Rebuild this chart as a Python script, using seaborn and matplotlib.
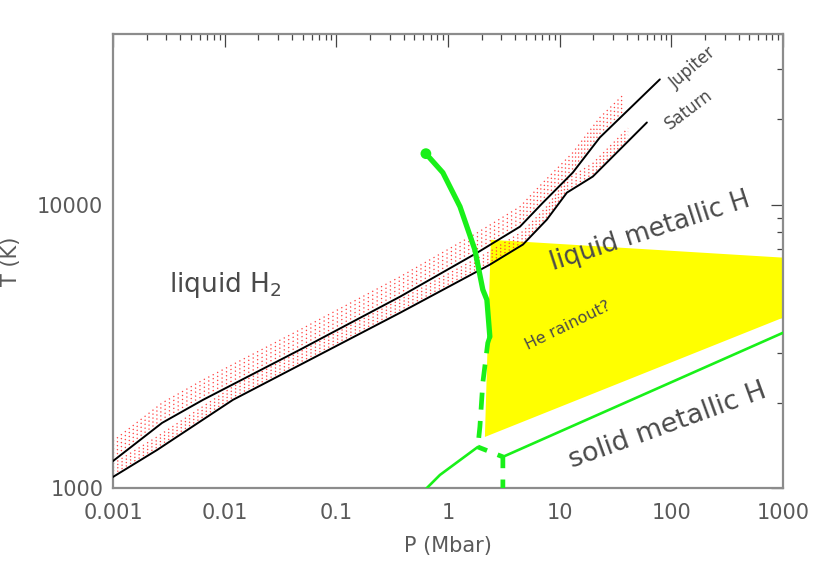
import numpy as np
import pandas as pd
import matplotlib
matplotlib.use('Agg')
import matplotlib.pyplot as plt
import matplotlib.ticker as mticker
import seaborn as sns

# adiabats, P in Mbar, T in K
jup_P = [0.001, 0.00275, 0.0064, 0.0472, 0.371, 1.82, 4.41, 7.08, 13.1, 22.9, 78.9]
jup_T = [1245, 1697, 2047, 3076, 4730, 6760, 8360, 10160, 12970, 17260, 27660]
sat_P = [0.001, 0.00248, 0.01186, 0.371, 2.37, 4.69, 7.67, 11.6, 19.8, 60.4]
sat_T = [1094, 1362, 2047, 4150, 6140, 7230, 8850, 11020, 12560, 19490]

# uncertainty bands (offsets in dex above each adiabat, and last pressure)
jup_band_dex = [0.014, 0.028, 0.042, 0.056, 0.070]
sat_band_dex = [0.010, 0.022, 0.034, 0.046]
jup_band_end = 37.0
sat_band_end = 41.0

# H2 -> metallic transition (solid part, dashed part)
ppt_P = [0.634, 0.899, 1.28, 1.74, 2.05, 2.23, 2.37]
ppt_T = [15130, 12970, 9840, 6930, 5010, 4615, 3420]
ppt_dash_P = [2.37, 2.27, 2.05, 1.93, 1.85]
ppt_dash_T = [3420, 3250, 2350, 1643, 1396]

# melting curves
melt_lo_P = [1.85, 0.847, 0.647, 0.56]
melt_lo_T = [1396, 1112, 1000, 944]
melt_dash_P = [1.85, 3.10, 3.10]
melt_dash_T = [1396, 1288, 900]
melt_hi_P = [3.10, 1000]
melt_hi_T = [1288, 3530]

# He rainout region
he_P = [2.42, 1000, 1000, 2.14, 2.27]
he_T = [7515, 6500, 3990, 1514, 3335]

xtick_vals = [0.001, 0.01, 0.1, 1, 10, 100, 1000]
xtick_labels = ['0.001', '0.01', '0.1', '1', '10', '100', '1000']
ytick_vals = [1000, 10000]
ytick_labels = ['1000', '10000']

sns.set_style('white')
plt.rcParams['font.family'] = ['DejaVu Sans']

fig = plt.figure(figsize=(8.17, 5.61), dpi=100)
ax = fig.add_axes([113 / 817, 1 - 488 / 561, 670 / 817, 454 / 561])
ax.set_xscale('log')
ax.set_yscale('log')

green = '#19f019'
txt = '#4a4a4a'
lab = '#5a5a5a'


def band(P, T, end, dex):
    lp, lt = np.log10(P), np.log10(T)
    keep = lp < np.log10(end)
    bp = np.append(lp[keep], np.log10(end))
    bt = np.append(lt[keep], np.interp(np.log10(end), lp, lt))
    return 10 ** bp, 10 ** (bt + dex)


ax.fill(he_P, he_T, color='#ffff00', lw=0, zorder=1)

for P, T, end, offs in [(jup_P, jup_T, jup_band_end, jup_band_dex),
                        (sat_P, sat_T, sat_band_end, sat_band_dex)]:
    for d in offs:
        bp, bt = band(np.array(P), np.array(T), end, d)
        ax.plot(bp, bt, color='#ff3b3b', lw=0.9, ls=(0, (1, 3)), zorder=2)

adiab = pd.concat([pd.DataFrame({'P': jup_P, 'T': jup_T, 'planet': 'Jupiter'}),
                   pd.DataFrame({'P': sat_P, 'T': sat_T, 'planet': 'Saturn'})])
sns.lineplot(data=adiab, x='P', y='T', units='planet', estimator=None, sort=False,
             color='black', lw=1.4, ax=ax, zorder=3)

sns.lineplot(x=ppt_P, y=ppt_T, sort=False, estimator=None, color=green, lw=3.8,
             ax=ax, zorder=4)
sns.lineplot(x=ppt_dash_P, y=ppt_dash_T, sort=False, estimator=None, color=green,
             lw=3.4, ls=(0, (3.6, 2.4)), ax=ax, zorder=4)
sns.scatterplot(x=ppt_P[:1], y=ppt_T[:1], color=green, s=60, edgecolor='none',
                ax=ax, zorder=5)
sns.lineplot(x=melt_lo_P, y=melt_lo_T, sort=False, estimator=None, color=green,
             lw=1.9, ax=ax, zorder=4)
sns.lineplot(x=melt_dash_P, y=melt_dash_T, sort=False, estimator=None, color=green,
             lw=3.4, ls=(1.5, (3.6, 2.4)), ax=ax, zorder=4)
sns.lineplot(x=melt_hi_P, y=melt_hi_T, sort=False, estimator=None, color=green,
             lw=1.9, ax=ax, zorder=4)

ax.text(0.0101, 5210, 'liquid H$_2$', fontsize=19, color=txt, ha='center', va='center')
ax.text(64, 8040, 'liquid metallic H', fontsize=18.5, color=txt, rotation=18,
        ha='center', va='center', rotation_mode='anchor')
ax.text(93, 1656, 'solid metallic H', fontsize=19.5, color=txt, rotation=20,
        ha='center', va='center', rotation_mode='anchor')
ax.text(11.8, 3735, 'He rainout?', fontsize=11.5, color=txt, rotation=26,
        ha='center', va='center', rotation_mode='anchor')
ax.text(156, 30500, 'Jupiter', fontsize=12, color=txt, rotation=40,
        ha='center', va='center', rotation_mode='anchor')
ax.text(143, 21700, 'Saturn', fontsize=12, color=txt, rotation=37,
        ha='center', va='center', rotation_mode='anchor')

ax.set_xlim(1e-3, 1e3)
ax.set_ylim(1e3, 4e4)
ax.xaxis.set_major_locator(mticker.FixedLocator(xtick_vals))
ax.xaxis.set_major_formatter(mticker.FixedFormatter(xtick_labels))
ax.yaxis.set_major_locator(mticker.FixedLocator(ytick_vals))
ax.yaxis.set_major_formatter(mticker.FixedFormatter(ytick_labels))
ax.xaxis.set_minor_locator(mticker.LogLocator(base=10, subs=np.arange(2, 10), numticks=20))
ax.yaxis.set_minor_locator(mticker.LogLocator(base=10, subs=np.arange(2, 10), numticks=20))
ax.xaxis.set_minor_formatter(mticker.NullFormatter())
ax.yaxis.set_minor_formatter(mticker.NullFormatter())

ax.tick_params(which='both', direction='in', top=True, right=True, color='#444444',
               width=0.9, labelcolor=lab, labelsize=15)
ax.tick_params(which='major', length=9)
ax.tick_params(which='minor', length=4.5)
ax.tick_params(axis='x', pad=11)
ax.tick_params(axis='y', pad=7)
for s in ax.spines.values():
    s.set_color('#8c8c8c')
    s.set_linewidth(1.6)

ax.set_xlabel('P (Mbar)', fontsize=15, color=lab, labelpad=9)
ax.set_ylabel('')
fig.text(21 / 817, 1 - 261 / 561, 'T (K)', rotation=90, fontsize=15, color=lab,
         ha='right', va='center')

fig.savefig('out.png', dpi=100)
